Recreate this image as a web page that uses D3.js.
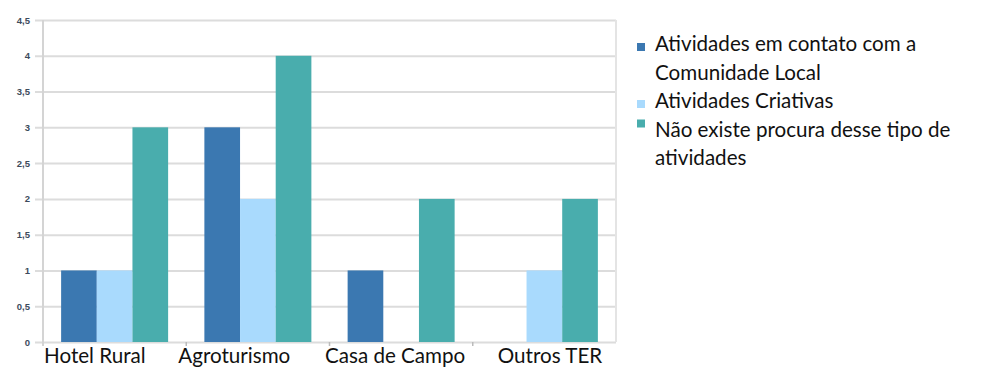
<!DOCTYPE html>
<html><head><meta charset="utf-8">
<script src="https://cdn.jsdelivr.net/npm/d3@7"></script>
<style>body{margin:0;background:#fff}svg{display:block}</style>
</head><body>
<script>
const categories = ["Hotel Rural", "Agroturismo", "Casa de Campo", "Outros TER"];
const seriesNames = ["Atividades em contato com a Comunidade Local", "Atividades Criativas", "Não existe procura desse tipo de atividades"];
const comunidadeLocal = [1, 3, 1, 0];
const criativas = [1, 2, 0, 1];
const naoExiste = [3, 4, 2, 2];
const yTicks = [0, 0.5, 1, 1.5, 2, 2.5, 3, 3.5, 4, 4.5];
const legendLines = [["Atividades em contato com a", "Comunidade Local"], ["Atividades Criativas"], ["Não existe procura desse tipo de", "atividades"]];

const seriesValues = [comunidadeLocal, criativas, naoExiste];
const colors = ["#3b78b1", "#a9dafd", "#49adad"];
const labelOffsets = [1, -8, -4.5, 25];
const swatchOffsets = [-8, -8, -17];

const W = 989, H = 367;
const svg = d3.select("body").append("svg").attr("width", W).attr("height", H);
const mLeft = 43, mRight = 616, mTop = 20, mBottom = 342;

const y = d3.scaleLinear().domain([0, 4.5]).range([mBottom, mTop]);
const x0 = d3.scaleBand().domain(categories).range([mLeft, mRight]).padding(0);
const bw = x0.bandwidth();
const groupW = 107;
const x1 = d3.scaleBand().domain(d3.range(seriesNames.length)).range([(bw - groupW) / 2, (bw + groupW) / 2]).padding(0);

// gridlines
const yAxis = d3.axisLeft(y).tickValues(yTicks).tickSize(-(mRight - mLeft)).tickPadding(13)
  .tickFormat(d => String(d).replace(".", ","));
const gy = svg.append("g").attr("transform", `translate(${mLeft},0)`).call(yAxis);
gy.select(".domain").remove();
gy.selectAll(".tick line").attr("stroke", "#dcdcdc").attr("stroke-width", 2).attr("x1", -8);
gy.selectAll(".tick text").attr("fill", "#3d4b5c").attr("font-family", "'Liberation Sans', Arial, sans-serif")
  .attr("font-weight", "bold").attr("font-size", 9.5);
// right border
svg.append("line").attr("x1", mRight).attr("x2", mRight).attr("y1", mTop).attr("y2", mBottom).attr("stroke", "#e4e4e4").attr("stroke-width", 2);
// left axis line
svg.append("line").attr("x1", mLeft).attr("x2", mLeft).attr("y1", mTop).attr("y2", mBottom + 4).attr("stroke", "#d4d4d4").attr("stroke-width", 2);

// category boundary ticks
const gx = svg.append("g").attr("transform", `translate(0,${mBottom})`);
gx.selectAll("line.sep").data(categories.slice(1)).join("line")
  .attr("x1", d => x0(d)).attr("x2", d => x0(d)).attr("y1", 0).attr("y2", 4)
  .attr("stroke", "#bbb").attr("stroke-width", 1.5);

// bars
const groups = svg.append("g").selectAll("g").data(categories).join("g")
  .attr("transform", d => `translate(${x0(d)},0)`);
groups.selectAll("rect").data((d, i) => seriesValues.map((s, k) => ({ k, v: s[i] }))).join("rect")
  .attr("x", d => x1(d.k)).attr("width", x1.bandwidth())
  .attr("y", d => y(d.v)).attr("height", d => y(0) - y(d.v))
  .attr("fill", d => colors[d.k]);

// x labels
svg.append("g").selectAll("text").data(categories).join("text")
  .attr("x", (d, i) => x0(d) + labelOffsets[i])
  .attr("y", 363).attr("text-anchor", "start")
  .attr("font-family", "Lato, sans-serif").attr("font-size", 20.6).attr("fill", "#111")
  .text(d => d);

// legend
const leg = svg.append("g");
const lineH = 28.5;
let row = 0;
legendLines.forEach((lines, k) => {
  const baseY = 51 + row * lineH;
  leg.append("rect").attr("x", 637).attr("y", baseY + swatchOffsets[k]).attr("width", 8).attr("height", 8).attr("fill", colors[k]);
  lines.forEach((t, j) => {
    leg.append("text").attr("x", 655).attr("y", baseY + j * lineH)
      .attr("font-family", "Lato, sans-serif").attr("font-size", 20.6).attr("fill", "#111").text(t);
  });
  row += lines.length;
});
</script>
</body></html>
